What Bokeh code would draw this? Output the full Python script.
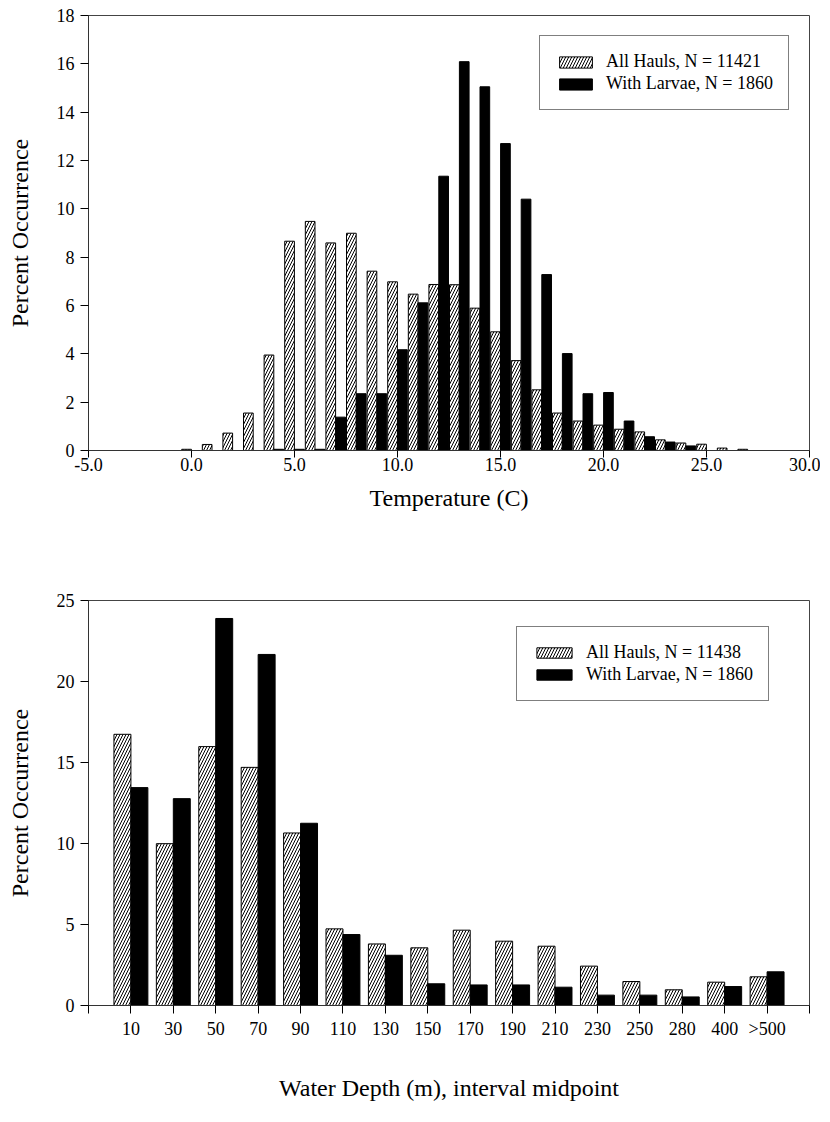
from bokeh.plotting import figure
from bokeh.layouts import column
from bokeh.models import (Range1d, FixedTicker, ColumnDataSource, Legend, LegendItem)
from bokeh.transform import dodge
from bokeh.embed import file_html
from bokeh.resources import INLINE

# ---------------- data ----------------
temp_bins = list(range(0, 28))
temp_all_hauls = [0.05, 0.25, 0.72, 1.55, 3.95, 8.66, 9.48, 8.59, 8.99, 7.42,
                  6.98, 6.47, 6.87, 6.86, 5.89, 4.91, 3.72, 2.51, 1.55, 1.22,
                  1.05, 0.88, 0.77, 0.44, 0.31, 0.26, 0.10, 0.05]
temp_with_larvae = [0.0, 0.0, 0.0, 0.0, 0.05, 0.05, 0.05, 1.38, 2.35, 2.35,
                    4.17, 6.11, 11.35, 16.09, 15.05, 12.70, 10.40, 7.28, 4.01, 2.35,
                    2.40, 1.22, 0.57, 0.35, 0.19, 0.0, 0.0, 0.0]
temp_ticks = [-5, 0, 5, 10, 15, 20, 25, 30]
temp_tick_labels = ["-5.0", "0.0", "5.0", "10.0", "15.0", "20.0", "25.0", "30.0"]
temp_yticks = [0, 2, 4, 6, 8, 10, 12, 14, 16, 18]

depth_labels = ["10", "30", "50", "70", "90", "110", "130", "150", "170", "190",
                "210", "230", "250", "280", "400", ">500"]
depth_all_hauls = [16.74, 9.99, 15.98, 14.70, 10.65, 4.73, 3.80, 3.56, 4.65, 3.97,
                   3.66, 2.43, 1.48, 0.97, 1.44, 1.77]
depth_with_larvae = [13.45, 12.77, 23.89, 21.67, 11.25, 4.38, 3.10, 1.34, 1.27, 1.27,
                     1.13, 0.64, 0.64, 0.53, 1.17, 2.08]
depth_yticks = [0, 5, 10, 15, 20, 25]

FONT = "Liberation Serif"


def style(p):
    p.outline_line_color = "#444444"
    p.outline_line_width = 1
    p.xgrid.visible = False
    p.ygrid.visible = False
    p.background_fill_color = "white"
    p.border_fill_color = "white"
    for ax in (p.xaxis[0], p.yaxis[0]):
        ax.axis_line_color = "#333333"
        ax.major_tick_line_color = "black"
        ax.minor_tick_line_color = None
        ax.major_tick_out = 8
        ax.major_tick_in = 0
        ax.major_label_text_font = FONT
        ax.major_label_text_font_size = "18px"
        ax.major_label_text_color = "black"
        ax.axis_label_text_font = FONT
        ax.axis_label_text_font_size = "24px"
        ax.axis_label_text_font_style = "normal"
        ax.axis_label_text_color = "black"


def make_legend(p, r1, r2, lab1, lab2, loc, gw, gh):
    leg = Legend(items=[LegendItem(label=lab1, renderers=[r1]),
                        LegendItem(label=lab2, renderers=[r2])],
                 location=loc)
    leg.label_text_font = FONT
    leg.label_text_font_size = "18px"
    leg.label_text_color = "black"
    leg.glyph_width = gw
    leg.glyph_height = gh
    leg.label_height = 21
    leg.label_standoff = 10
    leg.spacing = 1
    leg.padding = 15
    leg.margin = 0
    leg.border_line_color = "black"
    leg.border_line_width = 1
    leg.background_fill_alpha = 1.0
    leg.background_fill_color = "white"
    p.add_layout(leg, "center")


HATCH = dict(hatch_pattern="/", hatch_color="black", hatch_scale=6, hatch_weight=1)

# ---------------- top chart: temperature ----------------
src1 = ColumnDataSource(dict(x=temp_bins, allh=temp_all_hauls, larv=temp_with_larvae))
p1 = figure(frame_width=721, frame_height=435, width=820, height=512,
            x_range=Range1d(-5, 30), y_range=Range1d(0, 18),
            output_backend="svg", toolbar_location=None,
            min_border_left=88, min_border_right=11, min_border_top=15, min_border_bottom=62)
style(p1)
r1a = p1.vbar(x=dodge("x", -0.24, range=p1.x_range), top="allh", width=0.47, source=src1,
              fill_color="white", line_color="black", line_width=1, **HATCH)
r1b = p1.vbar(x=dodge("x", 0.24, range=p1.x_range), top="larv", width=0.47, source=src1,
              fill_color="black", line_color="black", line_width=1)
p1.xaxis.ticker = FixedTicker(ticks=temp_ticks)
p1.xaxis.major_label_overrides = {t: l for t, l in zip(temp_ticks, temp_tick_labels)}
p1.yaxis.ticker = FixedTicker(ticks=temp_yticks)
p1.xaxis.axis_label = "Temperature (C)"
p1.yaxis.axis_label = "Percent Occurrence"
p1.xaxis.major_tick_out = 7
p1.xaxis.major_label_standoff = 0
p1.yaxis.major_label_standoff = 6
p1.xaxis.axis_label_standoff = 11
p1.yaxis.axis_label_standoff = 21
make_legend(p1, r1a, r1b, "All Hauls, N = 11421", "With Larvae, N = 1860", (451, 340), 41, 14)

# ---------------- bottom chart: depth ----------------
depth_pos = list(range(1, len(depth_labels) + 1))
src2 = ColumnDataSource(dict(x=depth_pos, allh=depth_all_hauls, larv=depth_with_larvae))
p2 = figure(frame_width=721, frame_height=405, width=820, height=594,
            x_range=Range1d(0, len(depth_labels) + 1), y_range=Range1d(0, 25),
            output_backend="svg", toolbar_location=None,
            min_border_left=88, min_border_right=11, min_border_top=87, min_border_bottom=102)
style(p2)
r2a = p2.vbar(x=dodge("x", -0.2, range=p2.x_range), top="allh", width=0.4, source=src2,
              fill_color="white", line_color="black", line_width=1, **HATCH)
r2b = p2.vbar(x=dodge("x", 0.2, range=p2.x_range), top="larv", width=0.4, source=src2,
              fill_color="black", line_color="black", line_width=1)
p2.xaxis.ticker = FixedTicker(ticks=list(range(0, len(depth_labels) + 2)))
ov = {0: "", len(depth_labels) + 1: ""}
ov.update({i + 1: l for i, l in enumerate(depth_labels)})
p2.xaxis.major_label_overrides = ov
p2.yaxis.ticker = FixedTicker(ticks=depth_yticks)
p2.xaxis.axis_label = "Water Depth (m), interval midpoint"
p2.yaxis.axis_label = "Percent Occurrence"
p2.xaxis.major_label_standoff = 5
p2.yaxis.major_label_standoff = 6
p2.xaxis.axis_label_standoff = 33
p2.yaxis.axis_label_standoff = 21
make_legend(p2, r2a, r2b, "All Hauls, N = 11438", "With Larvae, N = 1860", (428, 304), 44, 13)

layout = column(p1, p2, spacing=0)
open("out.html", "w").write(file_html(layout, INLINE))
